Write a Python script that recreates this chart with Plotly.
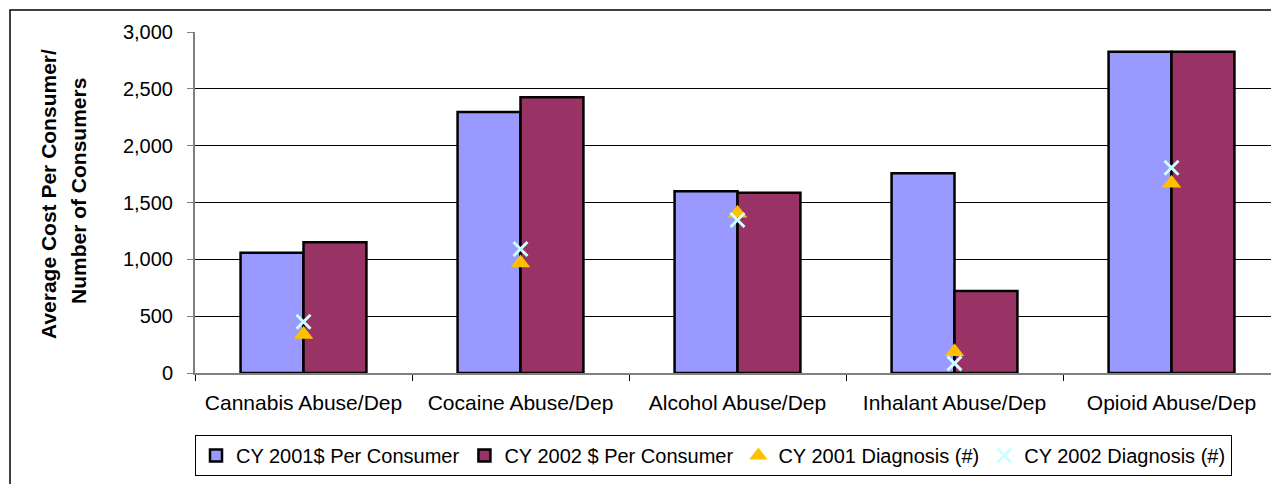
import plotly.graph_objects as go

# Substance abuse categories and per-year figures
categories = ["Cannabis Abuse/Dep", "Cocaine Abuse/Dep", "Alcohol Abuse/Dep",
              "Inhalant Abuse/Dep", "Opioid Abuse/Dep"]
cost_2001 = [1058, 2296, 1598, 1757, 2827]
cost_2002 = [1150, 2425, 1586, 721, 2827]
diag_2001 = [338, 968, 1405, 187, 1669]
diag_2002 = [451, 1091, 1346, 85, 1806]

W, H = 1271, 484
L, R, T, B = 195, 0, 32, 111
pw, ph = W - L - R, H - T - B

FONT = "Liberation Sans, Arial, sans-serif"

fig = go.Figure()
fig.add_trace(go.Bar(name="CY 2001$ Per Consumer", x=categories, y=cost_2001,
                     marker=dict(color="#9999FF", line=dict(color="#000000", width=2.5))))
fig.add_trace(go.Bar(name="CY 2002 $ Per Consumer", x=categories, y=cost_2002,
                     marker=dict(color="#993366", line=dict(color="#000000", width=2.5))))
fig.add_trace(go.Scatter(name="CY 2001 Diagnosis (#)", x=categories, y=diag_2001,
                         mode="markers",
                         marker=dict(symbol="triangle-up", size=17, color="#FFC000",
                                     line=dict(width=0))))
fig.add_trace(go.Scatter(name="CY 2002 Diagnosis (#)", x=categories, y=diag_2002,
                         mode="markers",
                         marker=dict(symbol="x-thin", size=14,
                                     line=dict(color="#CCFFFF", width=3))))

def px_to_paper_x(px):
    return (px - L) / pw

def px_to_paper_y(py):
    return (T + ph - py) / ph

fig.update_layout(
    width=W, height=H,
    margin=dict(l=L, r=R, t=T, b=B, pad=0),
    paper_bgcolor="white", plot_bgcolor="white",
    font=dict(family=FONT, size=21, color="#000000"),
    barmode="group", bargap=0.42, bargroupgap=0,
    showlegend=True,
    legend=dict(orientation="h", x=px_to_paper_x(713.5), xanchor="center",
                y=px_to_paper_y(435), yanchor="top",
                bgcolor="white", bordercolor="#000000", borderwidth=1,
                font=dict(family=FONT, size=20), itemwidth=30,
                tracegroupgap=0),
    xaxis=dict(type="category", range=[-0.5, 4.5 - 9 / 217],
               showline=True, linecolor="#808080", linewidth=2,
               ticks="outside", tickson="boundaries", ticklen=6,
               tickcolor="#000000", tickwidth=1,
               showgrid=False, ticklabelstandoff=10,
               tickfont=dict(family=FONT, size=21)),
    yaxis=dict(range=[0, 3000], dtick=500, tickformat=",",
               showline=True, linecolor="#808080", linewidth=2,
               ticks="outside", ticklen=6, tickcolor="#808080", tickwidth=1,
               showgrid=True, gridcolor="#000000", gridwidth=1,
               zeroline=False, ticklabelstandoff=10,
               tickfont=dict(family=FONT, size=20)),
    shapes=[dict(type="rect", xref="paper", yref="paper",
                 x0=px_to_paper_x(10), x1=px_to_paper_x(1300),
                 y0=px_to_paper_y(500), y1=px_to_paper_y(10),
                 line=dict(color="#000000", width=1.5), fillcolor="rgba(0,0,0,0)",
                 layer="below")],
    annotations=[
        dict(text="<b>Average Cost Per Consumer/</b>", textangle=-90,
             xref="paper", yref="paper", x=px_to_paper_x(48), y=px_to_paper_y(194),
             xanchor="center", yanchor="middle", showarrow=False,
             font=dict(family=FONT, size=21)),
        dict(text="<b>Number of Consumers</b>", textangle=-90,
             xref="paper", yref="paper", x=px_to_paper_x(78), y=px_to_paper_y(191),
             xanchor="center", yanchor="middle", showarrow=False,
             font=dict(family=FONT, size=21)),
    ],
)

fig.write_html("out.html")
